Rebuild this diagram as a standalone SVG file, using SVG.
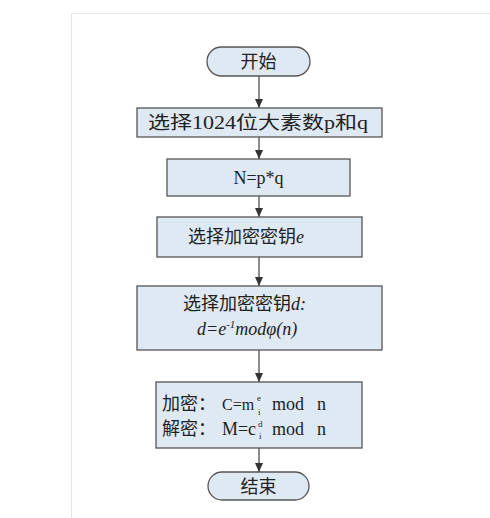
<svg xmlns="http://www.w3.org/2000/svg" width="490" height="518" viewBox="0 0 490 518">
<defs>
<style>
.box{fill:#dee9f4;stroke:#555;stroke-width:1.3}
.con{stroke:#666;stroke-width:1.5;fill:none}
.t{font-family:"Liberation Serif","Noto Sans CJK SC",serif;font-size:18px;fill:#222}
.c{text-anchor:middle}
.i{font-style:italic}
.s{font-family:"Liberation Serif",serif;font-size:9px;fill:#222}
</style>
<marker id="ah" markerWidth="10" markerHeight="8" refX="9" refY="4" orient="auto" markerUnits="userSpaceOnUse">
<path d="M0,0 L9,4 L0,8 Z" fill="#333"/>
</marker>
</defs>
<rect x="0" y="0" width="490" height="518" fill="#fff"/>
<path d="M71.5,518 V13.5 H490" stroke="#e6e6e6" stroke-width="1.2" fill="none"/>
<g id="connectors">
<line class="con" x1="259" y1="76" x2="259" y2="108" marker-end="url(#ah)"/>
<line class="con" x1="259" y1="137" x2="259" y2="159" marker-end="url(#ah)"/>
<line class="con" x1="259" y1="196" x2="259" y2="217" marker-end="url(#ah)"/>
<line class="con" x1="259" y1="257" x2="259" y2="286" marker-end="url(#ah)"/>
<line class="con" x1="259" y1="350" x2="259" y2="382" marker-end="url(#ah)"/>
<line class="con" x1="259" y1="448" x2="259" y2="472" marker-end="url(#ah)"/>
</g>
<g id="start">
<rect class="box" x="207" y="47" width="103" height="29" rx="14.5"/>
<text class="t c" x="258.5" y="68">开始</text>
</g>
<g id="select-pq">
<rect class="box" x="137" y="108" width="245" height="29"/>
<text class="t" x="148" y="129" textLength="220" lengthAdjust="spacingAndGlyphs">选择1024位大素数p和q</text>
</g>
<g id="n">
<rect class="box" x="167" y="159" width="183" height="37"/>
<text class="t c" x="258.5" y="184">N=p*q</text>
</g>
<g id="select-e">
<rect class="box" x="157" y="217" width="205" height="40"/>
<text class="t" x="188" y="243">选择加密密钥<tspan class="i">e</tspan></text>
</g>
<g id="select-d">
<rect class="box" x="137" y="286" width="245" height="64"/>
<text class="t" x="183" y="310">选择加密密钥<tspan class="i">d:</tspan></text>
<text class="t i" x="197" y="335"><tspan>d=e</tspan><tspan font-size="11" dy="-7">-1</tspan><tspan dy="7">modφ(n)</tspan></text>
</g>
<g id="encrypt">
<rect class="box" x="156" y="382" width="206" height="66"/>
<text class="t" x="162" y="410">加密：</text>
<text class="t" x="222" y="410" style="font-size:16px">C=m</text>
<text class="s" x="257" y="401">e</text>
<text class="s" x="258" y="415">i</text>
<text class="t" x="272" y="410">mod</text>
<text class="t" x="317" y="410">n</text>
<text class="t" x="162" y="435">解密：</text>
<text class="t" x="222" y="435" textLength="34" lengthAdjust="spacingAndGlyphs">M=c</text>
<text class="s" x="258" y="427">d</text>
<text class="s" x="259" y="439">i</text>
<text class="t" x="272" y="435">mod</text>
<text class="t" x="317" y="435">n</text>
</g>
<g id="end">
<rect class="box" x="208" y="472" width="101" height="28" rx="14"/>
<text class="t c" x="258.5" y="493">结束</text>
</g>
</svg>
